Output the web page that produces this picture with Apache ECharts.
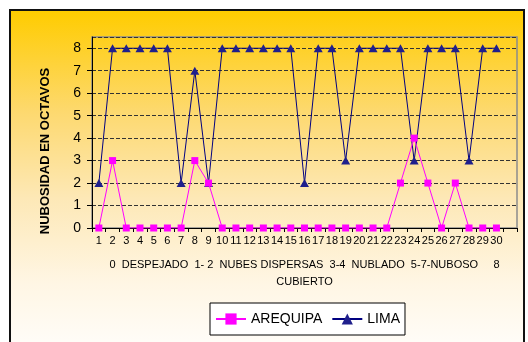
<!DOCTYPE html>
<html><head><meta charset="utf-8">
<script src="https://cdn.jsdelivr.net/npm/echarts@6/dist/echarts.min.js"></script>
<style>
html,body{margin:0;padding:0;background:#fff;overflow:hidden}
#bg{position:absolute;left:9px;top:9px;width:512px;height:340px;border:2px solid #111;
 background:linear-gradient(to bottom,#FFCC00 0%,#FDD970 30%,#FDE8B6 55%,#FFF6E4 80%,#FFFDFA 100%)}
#c{position:absolute;left:0;top:0;width:528px;height:342px}
</style>
</head><body><div id="bg"></div><div id="c"></div>
<script>
const days = ['1','2','3','4','5','6','7','8','9','10','11','12','13','14','15','16','17','18','19','20','21','22','23','24','25','26','27','28','29','30',''];
const arequipa = [0,3,0,0,0,0,0,3,2,0,0,0,0,0,0,0,0,0,0,0,0,0,2,4,2,0,2,0,0,0];
const lima = [2,8,8,8,8,8,2,7,2,8,8,8,8,8,8,2,8,8,3,8,8,8,8,3,8,8,8,3,8,8];
const yTicks = [0,1,2,3,4,5,6,7,8];
const xTitle = '0  DESPEJADO  1- 2  NUBES DISPERSAS  3-4  NUBLADO  5-7-NUBOSO     8\nCUBIERTO';
const yTitle = 'NUBOSIDAD EN OCTAVOS';

const FONT = 'Arial, "Liberation Sans", sans-serif';
const chart = echarts.init(document.getElementById('c'), null, {renderer: 'canvas'});

chart.setOption({
  animation: false,
  backgroundColor: 'transparent',
  textStyle: {fontFamily: FONT},
  graphic: [
    {type: 'text', x: 45, y: 151, rotation: Math.PI / 2,
     style: {x: 0, y: 0, text: yTitle, font: 'bold 13px ' + FONT, fill: '#000', align: 'center', verticalAlign: 'middle'}}
  ],
  grid: {left: 92, top: 37, right: 11, bottom: 114, show: true, borderColor: '#8c8c8c', borderWidth: 1.5, backgroundColor: 'transparent', containLabel: false},
  legend: {
    left: 210, top: 303, orient: 'horizontal', itemWidth: 30, itemHeight: 14, itemGap: 9,
    padding: [9, 5, 9, 5], backgroundColor: '#fff', borderColor: '#000', borderWidth: 1, borderRadius: 0,
    textStyle: {fontSize: 14, color: '#000', fontFamily: FONT},
    data: ['AREQUIPA', 'LIMA']
  },
  xAxis: {type: 'category', data: days, boundaryGap: true, position: 'bottom',
     axisLine: {lineStyle: {color: '#000', width: 1}},
     axisTick: {show: true, interval: 0, alignWithLabel: false, length: 4, lineStyle: {color: '#000'}},
     axisLabel: {interval: 0, fontSize: 11, color: '#000', margin: 7},
     splitLine: {show: false},
     name: xTitle, nameLocation: 'middle', nameGap: 28,
     nameTextStyle: {fontSize: 11, color: '#000', lineHeight: 17, align: 'center'}},
  yAxis: {type: 'value', min: 0, max: 8.5, interval: 1, position: 'left',
     axisLine: {show: true, lineStyle: {color: '#000', width: 1}},
     axisTick: {show: true, length: 5, lineStyle: {color: '#000'}},
     axisLabel: {fontSize: 14, color: '#000', margin: 11, showMaxLabel: false},
     splitLine: {show: true, lineStyle: {color: '#333333', type: 'dashed', width: 1}}},
  series: [
    {name: 'AREQUIPA', type: 'line', data: arequipa,
     symbol: 'rect', symbolSize: 7, showAllSymbol: true,
     lineStyle: {color: '#FF00FF', width: 1}, itemStyle: {color: '#FF00FF'}, z: 3},
    {name: 'LIMA', type: 'line', data: lima,
     symbol: 'triangle', symbolSize: [9, 8], showAllSymbol: true,
     lineStyle: {color: '#000080', width: 1}, itemStyle: {color: '#1F1F8C'}, z: 2}
  ]
});
</script></body></html>
